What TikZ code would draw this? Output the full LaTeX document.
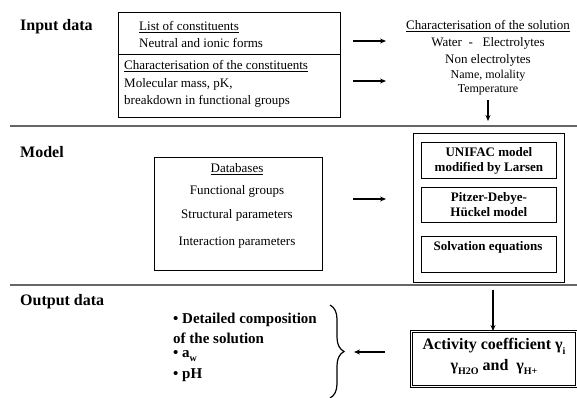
\documentclass[tikz,border=0pt]{standalone}
\usepackage{fontspec}
\setmainfont{Liberation Serif}
\usetikzlibrary{arrows.meta,decorations.pathreplacing,calc}
\newcommand\mysub[1]{\raisebox{-0.3em}{\fontsize{10}{10}\selectfont #1}}
\begin{document}
\begin{tikzpicture}[x=1pt,y=-1pt,
  box/.style={draw, line width=0.8pt, inner sep=0pt, anchor=north west},
  arr/.style={-{Stealth[length=6pt,width=5pt]}, line width=1.2pt},
  sepline/.style={draw=black!60, line width=1.4pt},
  txt/.style={font=\fontsize{13}{15}\selectfont, inner sep=0pt},
  stxt/.style={font=\fontsize{12}{14}\selectfont, inner sep=0pt},
  head/.style={font=\fontsize{16}{18}\selectfont\bfseries, inner sep=0pt, anchor=west},
  btxt/.style={font=\fontsize{13}{15}\selectfont\bfseries, inner sep=0pt, align=center},
  otxt/.style={font=\fontsize{15}{17}\selectfont\bfseries, inner sep=0pt, anchor=west}]
\useasboundingbox (0,0) rectangle (577,397);

% separators
\draw[sepline] (10,126) -- (577,126);
\draw[sepline] (10,285) -- (577,285);

% headings
\node[head] (hin) at (20,27) {Input data};
\node[head] (hmod) at (20,152) {Model};
\node[head] (hout) at (20,302) {Output data};

% input box
\node[box, minimum width=222pt, minimum height=105pt] (inbox) at (118,12) {};
\draw[line width=0.8pt] (118,54) -- (340,54);
\node[txt, anchor=west] (l1) at (139,27) {\underline{List of constituents}};
\node[txt, anchor=west] (l2) at (139,43) {Neutral and ionic forms};
\node[txt, anchor=west] (l3) at (124,66) {\underline{Characterisation of the constituents}};
\node[txt, anchor=west] (l4) at (124,84) {Molecular mass,\ pK,};
\node[txt, anchor=west] (l5) at (124,101) {breakdown in functional groups};

% arrows from input box
\coordinate (a1s) at (353,41); \coordinate (a1e) at (386,41);
\coordinate (a2s) at (353,81); \coordinate (a2e) at (386,81);
\draw[arr] (a1s) -- (a1e);
\draw[arr] (a2s) -- (a2e);

% solution characterisation
\node[txt] (s1) at (488,26) {\underline{Characterisation\ of the solution}};
\node[txt] (s2) at (488,43) {Water\ \ -\ \ \ Electrolytes};
\node[txt] (s3) at (488,60) {Non electrolytes};
\node[stxt] (s4) at (488,76) {Name, molality};
\node[stxt] (s5) at (488,90) {Temperature};
\coordinate (d1e) at (488,121);
\draw[arr] ($(s5.south)+(0,-5pt)$) -- (d1e);

% databases box
\node[box, minimum width=168pt, minimum height=113pt] (db) at (154,157) {};
\node[txt] (d1) at (237,169) {\underline{Databases}};
\node[txt] (d2) at (237,191) {Functional groups};
\node[txt] (d3) at (237,215) {Structural parameters};
\node[txt] (d4) at (237,243) {Interaction parameters};
\coordinate (a3s) at (353,199); \coordinate (a3e) at (386,199);
\draw[arr] (a3s) -- (a3e);

% model box
\node[box, minimum width=151pt, minimum height=149pt] (mod) at (413,133) {};
\node[box, minimum width=135pt, minimum height=36pt] (uni) at (421,142) {};
\node[btxt] at (uni.center) {UNIFAC model\\modified by Larsen};
\node[box, minimum width=135pt, minimum height=35pt] (pit) at (421,187) {};
\node[btxt] at (pit.center) {Pitzer-Debye-\\Hückel model};
\node[box, minimum width=135pt, minimum height=36pt] (sol) at (421,236) {};
\node[btxt] (soltxt) at (488,247) {Solvation equations};

% down arrow to activity
\coordinate (d2s) at (493,290);
\node[box, draw, double, double distance=1.6pt, line width=0.7pt, minimum width=165pt, minimum height=55pt] (act) at (411,331) {};
\node[font=\fontsize{16}{18}\selectfont\bfseries, inner sep=0pt] (act1) at (494,346) {Activity coefficient γ\mysub{i}};
\node[font=\fontsize{16}{18}\selectfont\bfseries, inner sep=0pt] (act2) at (494,367) {γ\mysub{H2O} and\ \ γ\mysub{H+}};
\draw[arr] (d2s) -- (act.north -| d2s);

% outputs
\node[otxt] (o1) at (173,320) {• Detailed composition};
\node[otxt] (o2) at (173,338) {of the solution};
\node[otxt] (o3) at (173,356) {• a\mysub{w}};
\node[otxt] (o4) at (173,375) {• pH};

% brace
\coordinate (bt) at (330,305);
\coordinate (bb) at (330,398);
\draw[line width=1.2pt, decorate, decoration={brace, amplitude=14pt}] (bt) -- (bb);
\coordinate (a4s) at (385,352); \coordinate (a4e) at (354,352);
\draw[arr] (a4s) -- (a4e);
\end{tikzpicture}
\end{document}
